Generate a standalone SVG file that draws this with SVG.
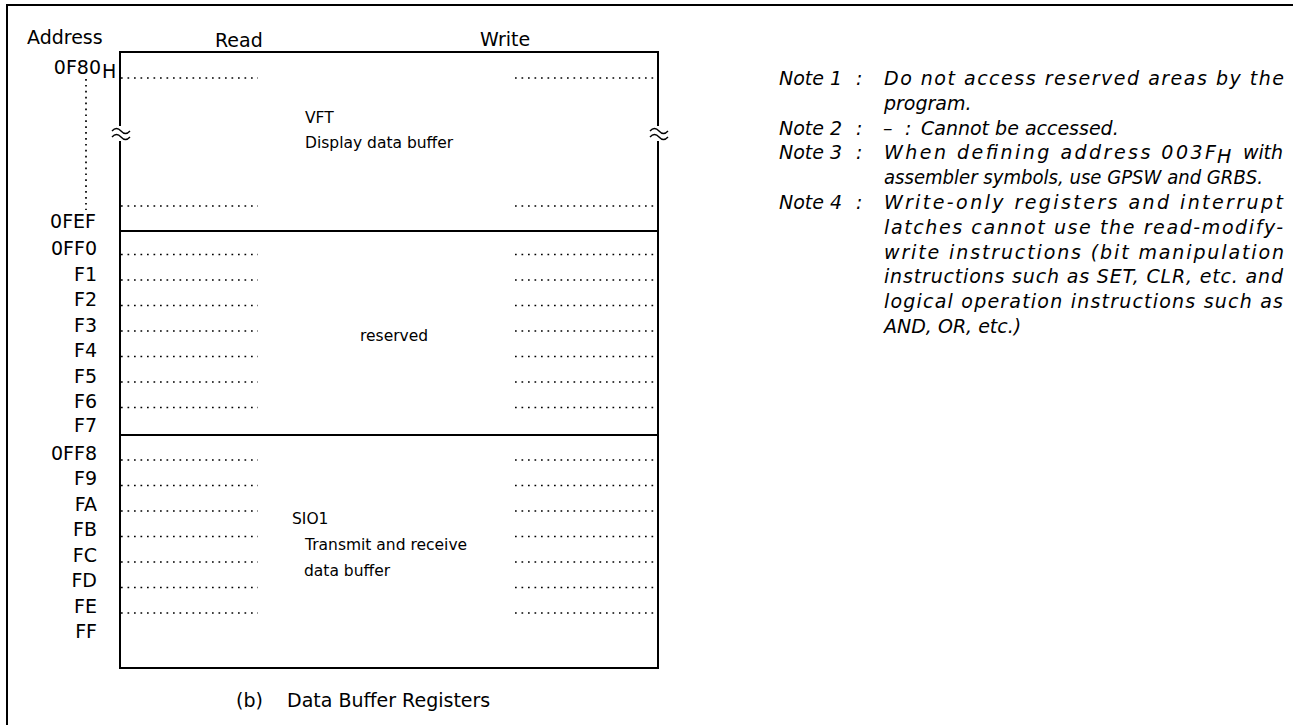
<svg xmlns="http://www.w3.org/2000/svg" width="1293" height="725" viewBox="0 0 1293 725">
<style>
text{font-family:"DejaVu Sans","Noto Sans",sans-serif;fill:#000}
.lb{font-size:19px}
.ad{font-size:19px;text-anchor:end}
.in{font-size:15.5px}
.nt{font-size:19px;font-style:italic}
.box{fill:none;stroke:#000;stroke-width:2}
.dot{stroke:#000;stroke-width:1.7;stroke-dasharray:1.7 4.8;fill:none}
.tl{fill:none;stroke:#000;stroke-width:1.4}
</style>
<rect width="1293" height="725" fill="#fff"/>
<path d="M7,725 V5 H1293" fill="none" stroke="#000" stroke-width="2"/>

<g id="headers">
<text class="lb" x="27" y="44">Address</text>
<text class="lb" x="215" y="47">Read</text>
<text class="lb" x="480" y="46">Write</text>
</g>

<g id="memory-box">
<rect class="box" x="120" y="52" width="538" height="616"/>
<line x1="120" y1="231" x2="658" y2="231" stroke="#000" stroke-width="2"/>
<line x1="120" y1="435" x2="658" y2="435" stroke="#000" stroke-width="2"/>
</g>

<g id="vft">
<text class="ad" x="101" y="74">0F80</text>
<text class="lb" x="102" y="78" font-size="14">H</text>
<line class="dot" x1="86" y1="79" x2="86" y2="210" style="stroke-dasharray:1.7 4.2"/>
<text class="ad" x="96" y="228">0FEF</text>
<line class="dot" x1="121" y1="78" x2="258" y2="78"/>
<line class="dot" x1="515" y1="78" x2="658" y2="78"/>
<line class="dot" x1="121" y1="206" x2="258" y2="206"/>
<line class="dot" x1="515" y1="206" x2="658" y2="206"/>
<text class="in" x="305" y="123">VFT</text>
<text class="in" x="305" y="148">Display data buffer</text>
<rect x="113" y="126" width="16" height="15" fill="#fff"/>
<rect x="651" y="126" width="16" height="15" fill="#fff"/>
<path class="tl" d="M112,131 q4.5,-5 9,0 t9,0 M112,137 q4.5,-5 9,0 t9,0"/>
<path class="tl" d="M650,131 q4.5,-5 9,0 t9,0 M650,137 q4.5,-5 9,0 t9,0"/>
</g>

<g id="reserved">
<text class="ad" x="97" y="255">0FF0</text>
<text class="ad" x="97" y="280.5">F1</text>
<text class="ad" x="97" y="306">F2</text>
<text class="ad" x="97" y="331.5">F3</text>
<text class="ad" x="97" y="357">F4</text>
<text class="ad" x="97" y="382.5">F5</text>
<text class="ad" x="97" y="408">F6</text>
<text class="ad" x="97" y="432">F7</text>
<g>
<line class="dot" x1="121" y1="254.5" x2="258" y2="254.5"/>
<line class="dot" x1="121" y1="280" x2="258" y2="280"/>
<line class="dot" x1="121" y1="305.5" x2="258" y2="305.5"/>
<line class="dot" x1="121" y1="331" x2="258" y2="331"/>
<line class="dot" x1="121" y1="356.5" x2="258" y2="356.5"/>
<line class="dot" x1="121" y1="382" x2="258" y2="382"/>
<line class="dot" x1="121" y1="407.5" x2="258" y2="407.5"/>
<line class="dot" x1="515" y1="254.5" x2="658" y2="254.5"/>
<line class="dot" x1="515" y1="280" x2="658" y2="280"/>
<line class="dot" x1="515" y1="305.5" x2="658" y2="305.5"/>
<line class="dot" x1="515" y1="331" x2="658" y2="331"/>
<line class="dot" x1="515" y1="356.5" x2="658" y2="356.5"/>
<line class="dot" x1="515" y1="382" x2="658" y2="382"/>
<line class="dot" x1="515" y1="407.5" x2="658" y2="407.5"/>
</g>
<text class="in" x="360" y="341">reserved</text>
</g>

<g id="sio1">
<text class="ad" x="97" y="459.5">0FF8</text>
<text class="ad" x="97" y="485">F9</text>
<text class="ad" x="97" y="510.5">FA</text>
<text class="ad" x="97" y="536">FB</text>
<text class="ad" x="97" y="561.5">FC</text>
<text class="ad" x="97" y="587">FD</text>
<text class="ad" x="97" y="612.5">FE</text>
<text class="ad" x="97" y="638">FF</text>
<g>
<line class="dot" x1="121" y1="460" x2="258" y2="460"/>
<line class="dot" x1="121" y1="485.5" x2="258" y2="485.5"/>
<line class="dot" x1="121" y1="511" x2="258" y2="511"/>
<line class="dot" x1="121" y1="536.5" x2="258" y2="536.5"/>
<line class="dot" x1="121" y1="562" x2="258" y2="562"/>
<line class="dot" x1="121" y1="587.5" x2="258" y2="587.5"/>
<line class="dot" x1="121" y1="613" x2="258" y2="613"/>
<line class="dot" x1="515" y1="460" x2="658" y2="460"/>
<line class="dot" x1="515" y1="485.5" x2="658" y2="485.5"/>
<line class="dot" x1="515" y1="511" x2="658" y2="511"/>
<line class="dot" x1="515" y1="536.5" x2="658" y2="536.5"/>
<line class="dot" x1="515" y1="562" x2="658" y2="562"/>
<line class="dot" x1="515" y1="587.5" x2="658" y2="587.5"/>
<line class="dot" x1="515" y1="613" x2="658" y2="613"/>
</g>
<text class="in" x="292" y="524">SIO1</text>
<text class="in" x="305" y="550">Transmit and receive</text>
<text class="in" x="304" y="576">data buffer</text>
</g>

<g id="caption">
<text class="lb" x="236" y="707">(b)</text>
<text class="lb" x="287" y="707">Data Buffer Registers</text>
</g>

<g id="notes">
<text class="nt" x="779" y="85">Note 1</text><text class="nt" x="856" y="85">:</text>
<text class="nt" x="884" y="85" textLength="400" lengthAdjust="spacing">Do not access reserved areas by the</text>
<text class="nt" x="884" y="109.8">program.</text>
<text class="nt" x="779" y="134.6">Note 2</text><text class="nt" x="856" y="134.6">:</text>
<text class="nt" x="883" y="134.6">–</text><text class="nt" x="905" y="134.6">:</text>
<text class="nt" x="921" y="134.6">Cannot be accessed.</text>
<text class="nt" x="779" y="159.4">Note 3</text><text class="nt" x="856" y="159.4">:</text>
<text class="nt" x="884" y="159.4" textLength="332" lengthAdjust="spacing">When defining address 003F</text>
<text class="nt" x="1217" y="163" font-size="14">H</text>
<text class="nt" x="1243" y="159.4" textLength="40" lengthAdjust="spacing">with</text>
<text class="nt" x="884" y="184.2" textLength="379" lengthAdjust="spacingAndGlyphs">assembler symbols, use GPSW and GRBS.</text>
<text class="nt" x="779" y="209">Note 4</text><text class="nt" x="856" y="209">:</text>
<text class="nt" x="884" y="209" textLength="399" lengthAdjust="spacing">Write-only registers and interrupt</text>
<text class="nt" x="884" y="233.8" textLength="399" lengthAdjust="spacing">latches cannot use the read-modify-</text>
<text class="nt" x="884" y="258.6" textLength="400" lengthAdjust="spacing">write instructions (bit manipulation</text>
<text class="nt" x="884" y="283.4" textLength="399" lengthAdjust="spacing">instructions such as SET, CLR, etc.  and</text>
<text class="nt" x="884" y="308.2" textLength="399" lengthAdjust="spacing">logical operation instructions such as</text>
<text class="nt" x="884" y="333">AND, OR, etc.)</text>
</g>
</svg>
